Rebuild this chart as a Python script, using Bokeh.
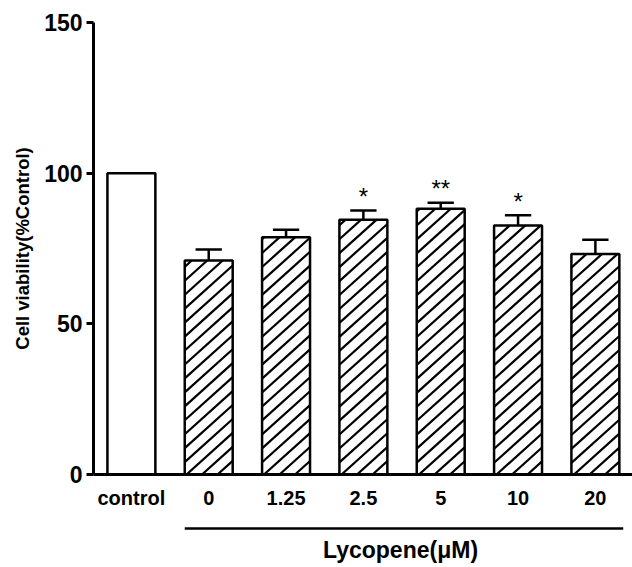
import math
from bokeh.plotting import figure
from bokeh.layouts import column
from bokeh.models import ColumnDataSource, Range1d, FixedTicker
from bokeh.core.properties import value
from bokeh.embed import file_html
from bokeh.resources import INLINE

categories = ["control", "0", "1.25", "2.5", "5", "10", "20"]
means = [100.0, 71.0, 78.7, 84.5, 88.2, 82.6, 73.2]
errors = [0.0, 3.7, 2.5, 3.1, 2.0, 3.4, 4.7]
significance = ["", "", "", "*", "**", "*", ""]
hatched = [False, True, True, True, True, True, True]
y_ticks = [0, 50, 100, 150]
x_title = "Lycopene(\u03bcM)"
y_title = "Cell viability(%Control)"
treated_span = [0.69, 6.36]   # extent of the treatment bracket (category units)
title_x = 3.48

FONT = "Liberation Sans"
BAR_W = 0.62
CAP_W = 0.34

# figure geometry
W, H = 632, 514
BL, BR, BT, BB = 93, 0, 22, 40
X0, X1 = -0.49, 6.48
Y0, Y1 = 0, 150
px_x = (W - BL - BR) / (X1 - X0)
px_y = (H - BT - BB) / (Y1 - Y0)

# hatch style (screen space): horizontal spacing and slope
HATCH_STEP = 15.5
HATCH_SLOPE = 0.9

xs = list(range(len(categories)))
xr = Range1d(X0, X1)

p = figure(width=W, height=H, output_backend="svg", toolbar_location=None,
           x_range=xr, y_range=Range1d(Y0, Y1),
           min_border_left=BL, min_border_right=BR, min_border_top=BT, min_border_bottom=BB)
p.outline_line_color = None
p.xgrid.visible = False
p.ygrid.visible = False

bars = ColumnDataSource(dict(x=xs, top=means))
p.vbar(x="x", top="top", bottom=0, width=BAR_W, source=bars,
       fill_color="white", line_color=None)

# diagonal hatch lines inside the treated bars
hx0, hy0, hx1, hy1 = [], [], [], []
for x, m, h in zip(xs, means, hatched):
    if not h:
        continue
    u0 = (x - BAR_W / 2 - X0) * px_x
    u1 = (x + BAR_W / 2 - X0) * px_x
    vt = (m - Y0) * px_y
    n = math.floor((u0 - vt / HATCH_SLOPE) / HATCH_STEP)
    while n * HATCH_STEP <= u1:
        c = n * HATCH_STEP
        lo = max(u0, c)
        hi = min(u1, c + vt / HATCH_SLOPE)
        if hi > lo:
            hx0.append(X0 + lo / px_x)
            hy0.append(Y0 + HATCH_SLOPE * (lo - c) / px_y)
            hx1.append(X0 + hi / px_x)
            hy1.append(Y0 + HATCH_SLOPE * (hi - c) / px_y)
        n += 1
p.segment(x0=hx0, y0=hy0, x1=hx1, y1=hy1, line_color="black", line_width=2.2)

# bar outlines
p.vbar(x="x", top="top", bottom=0, width=BAR_W, source=bars,
       fill_color=None, line_color="black", line_width=2.5)

# error bars (upper only)
ex = [x for x, e in zip(xs, errors) if e > 0]
em = [m for m, e in zip(means, errors) if e > 0]
ee = [m + e for m, e in zip(means, errors) if e > 0]
err = ColumnDataSource(dict(x=ex, y0=em, y1=ee,
                            xl=[x - CAP_W / 2 for x in ex], xr=[x + CAP_W / 2 for x in ex]))
p.segment(x0="x", y0="y0", x1="x", y1="y1", source=err, line_color="black", line_width=2.5)
p.segment(x0="xl", y0="y1", x1="xr", y1="y1", source=err, line_color="black", line_width=2.5)

# significance marks
sx = [x for x, s in zip(xs, significance) if s]
sy = [m + e + 0.2 for m, e, s in zip(means, errors, significance) if s]
st = [s for s in significance if s]
p.text(x=sx, y=sy, text=st, text_align="center", text_baseline="bottom",
       text_font=value(FONT), text_font_size="24px", text_color="black")

# axes
p.xaxis.ticker = FixedTicker(ticks=xs)
p.xaxis.major_label_overrides = {i: c for i, c in enumerate(categories)}
p.xaxis.major_tick_out = 0
p.xaxis.major_tick_in = 0
p.xaxis.minor_tick_out = 0
p.xaxis.minor_tick_in = 0
p.xaxis.axis_line_width = 3
p.xaxis.axis_line_color = "black"
p.xaxis.major_label_standoff = 12
p.xaxis.major_label_text_font = FONT
p.xaxis.major_label_text_font_style = "bold"
p.xaxis.major_label_text_font_size = "20px"
p.xaxis.major_label_text_color = "black"

p.yaxis.ticker = FixedTicker(ticks=y_ticks)
p.yaxis.major_tick_out = 7
p.yaxis.major_tick_in = 0
p.yaxis.minor_tick_out = 0
p.yaxis.minor_tick_in = 0
p.yaxis.major_tick_line_width = 3
p.yaxis.axis_line_width = 3
p.yaxis.axis_line_color = "black"
p.yaxis.major_label_standoff = 4
p.yaxis.major_label_text_font = FONT
p.yaxis.major_label_text_font_style = "bold"
p.yaxis.major_label_text_font_size = "23px"
p.yaxis.major_label_text_color = "black"
p.yaxis.axis_label = y_title
p.yaxis.axis_label_text_font = FONT
p.yaxis.axis_label_text_font_style = "bold"
p.yaxis.axis_label_text_font_size = "18.5px"
p.yaxis.axis_label_text_color = "black"
p.yaxis.axis_label_standoff = 8

# lower strip: treatment bracket and title, sharing the x range
b = figure(width=W, height=53, output_backend="svg", toolbar_location=None,
           x_range=xr, y_range=Range1d(53, 0), x_axis_type=None, y_axis_type=None,
           min_border_left=BL, min_border_right=BR, min_border_top=0, min_border_bottom=0)
b.outline_line_color = None
b.xgrid.visible = False
b.ygrid.visible = False
b.segment(x0=[treated_span[0]], y0=[14], x1=[treated_span[1]], y1=[14],
          line_color="black", line_width=2.5)
b.text(x=[title_x], y=[35], text=[x_title],
       text_align="center", text_baseline="middle",
       text_font=value(FONT), text_font_style="bold", text_font_size="23px", text_color="black")

layout = column(p, b, spacing=0)
open("out.html", "w").write(file_html(layout, INLINE))
